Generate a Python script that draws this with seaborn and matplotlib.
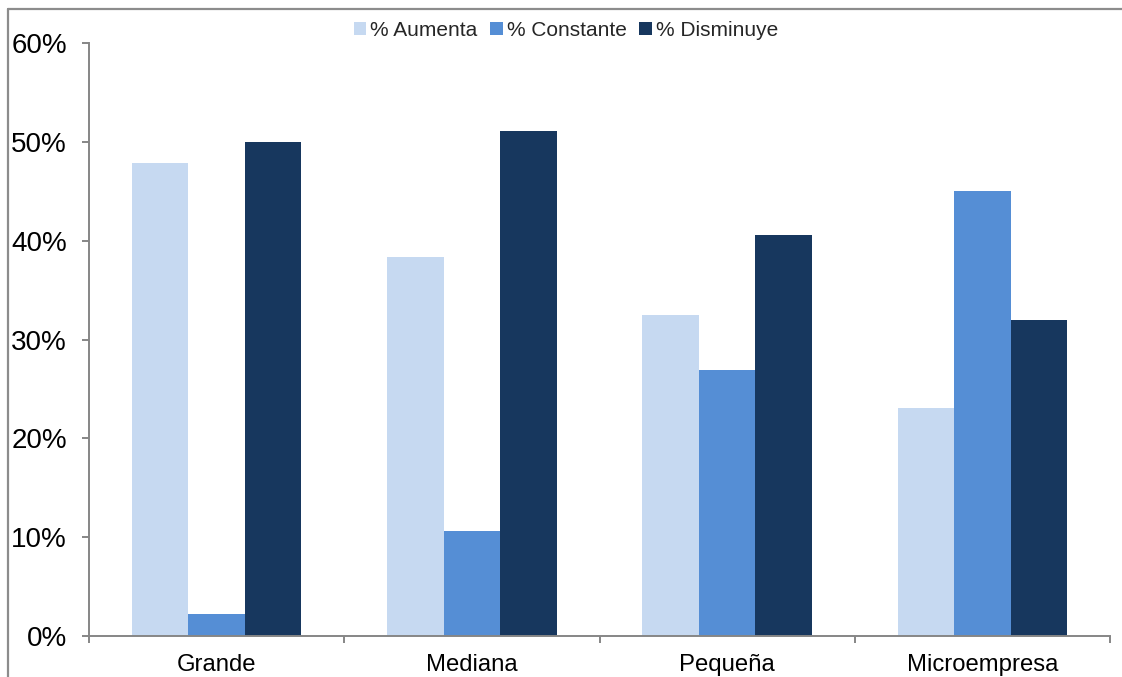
import matplotlib
matplotlib.use("Agg")
import matplotlib.pyplot as plt
from matplotlib.lines import Line2D
from matplotlib.ticker import FuncFormatter, FixedLocator
import seaborn as sns
import pandas as pd

categorias = ["Grande", "Mediana", "Pequeña", "Microempresa"]
series = ["% Aumenta", "% Constante", "% Disminuye"]
aumenta = [47.9, 38.3, 32.5, 23.1]
constante = [2.2, 10.6, 26.9, 45.0]
disminuye = [50.0, 51.1, 40.6, 32.0]
colores = ["#C6D9F1", "#558ED5", "#17375E"]

filas = []
for nombre, valores in zip(series, [aumenta, constante, disminuye]):
    for cat, v in zip(categorias, valores):
        filas.append({"categoria": cat, "serie": nombre, "valor": v})
df = pd.DataFrame(filas)

sns.set_theme(style="white")
plt.rcParams["font.family"] = ["Liberation Sans", "DejaVu Sans"]

fig = plt.figure(figsize=(11.22, 6.77), dpi=100)
ax = fig.add_axes([89 / 1122, 1 - 636 / 677, (1110 - 89) / 1122, (636 - 43) / 677])

sns.barplot(data=df, x="categoria", y="valor", hue="serie", order=categorias,
            hue_order=series, palette=colores, saturation=1, width=0.665,
            linewidth=0, ax=ax)

axis_gray = "#868686"
ax.set_xlim(-0.5, 3.5)
ax.set_ylim(0, 60)
ax.set_yticks(range(0, 61, 10))
ax.yaxis.set_major_formatter(FuncFormatter(lambda v, p: f"{v:.0f}%"))
ax.set_xlabel("")
ax.set_ylabel("")

for side in ["top", "right"]:
    ax.spines[side].set_visible(False)
for side in ["left", "bottom"]:
    ax.spines[side].set_color(axis_gray)
    ax.spines[side].set_linewidth(1.4)

ax.tick_params(axis="y", which="major", direction="out", length=5, width=1.4,
               color=axis_gray, labelsize=20, pad=11, left=True, labelcolor="black")
ax.tick_params(axis="x", which="major", length=0, labelsize=17.2, pad=13, labelcolor="black")
ax.xaxis.set_minor_locator(FixedLocator([-0.5, 0.5, 1.5, 2.5, 3.5]))
ax.tick_params(axis="x", which="minor", direction="out", length=5, width=1.4,
               color=axis_gray, bottom=True)

if ax.get_legend() is not None:
    ax.get_legend().remove()
handles = [plt.Rectangle((0, 0), 1, 1, facecolor=c, edgecolor="none") for c in colores]
fig.legend(handles, series, loc="center", bbox_to_anchor=(566 / 1122, 1 - 30 / 677),
           ncol=3, frameon=False, fontsize=15, handlelength=0.6, handleheight=0.6,
           handletextpad=0.2, columnspacing=0.6, borderaxespad=0)

# outer chart frame (left and top edges)
frame_gray = "#8C8C8C"
fig.add_artist(Line2D([8 / 1122, 8 / 1122], [0, 1 - 9 / 677], transform=fig.transFigure,
                      color=frame_gray, linewidth=1.6))
fig.add_artist(Line2D([8 / 1122, 1], [1 - 9 / 677, 1 - 9 / 677], transform=fig.transFigure,
                      color=frame_gray, linewidth=1.6))

fig.savefig("out.png", dpi=100, facecolor="white")
